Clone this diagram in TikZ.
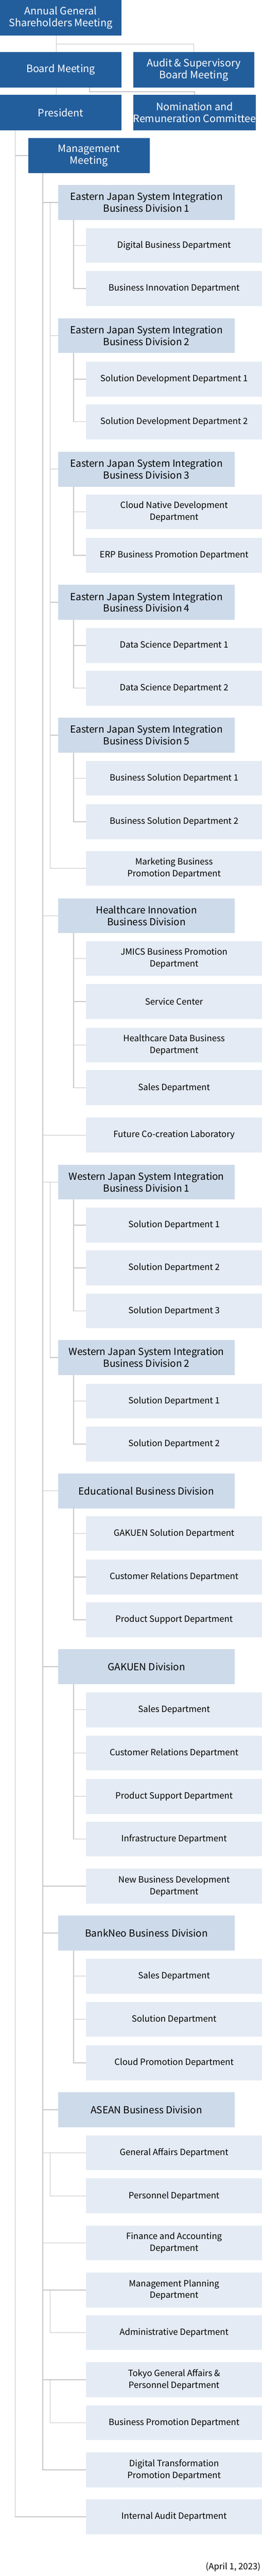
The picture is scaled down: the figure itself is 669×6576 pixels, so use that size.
\documentclass[tikz,border=0pt]{standalone}
\usepackage{fontspec}
\setmainfont{Noto Sans CJK JP}
\usepackage{tikz}
\usetikzlibrary{positioning}
\definecolor{topblue}{HTML}{235E9C}
\definecolor{divblue}{HTML}{CDDAE9}
\definecolor{deptblue}{HTML}{E4EBF4}
\definecolor{linegray}{HTML}{C8C8C8}
\tikzstyle{topbox}=[anchor=north west, fill=topblue, text=white, minimum width=310pt, minimum height=90pt, align=center, font=\fontsize{26}{30}\selectfont, inner sep=0pt]
\tikzstyle{divbox}=[anchor=north west, fill=divblue, text=black, minimum width=450pt, minimum height=89pt, align=center, font=\fontsize{25}{30}\selectfont, inner sep=0pt]
\tikzstyle{deptbox}=[anchor=north west, fill=deptblue, text=black, minimum width=449pt, minimum height=89pt, align=center, font=\fontsize{22}{30}\selectfont, inner sep=0pt]
\tikzstyle{conn}=[draw=linegray, line width=2pt]
\newcommand{\dept}[3]{\node[deptbox] (#1) at (220,#2) {#3};}
\newcommand{\divn}[3]{\node[divbox] (#1) at (149,#2) {#3};}

\begin{document}
\begin{tikzpicture}[x=1pt, y=-1pt]
    \useasboundingbox (0,0) rectangle (669,6576);

    % Trunk positions
    \coordinate (ta) at (144,0);
    \coordinate (tb) at (229,0);
    \coordinate (tp) at (39,0);
    \coordinate (tm) at (109,0);
    \coordinate (tg) at (128,0);
    \coordinate (td) at (188,0);

    % Top management
    \node[topbox] (agm) at (0,0) {Annual General\\Shareholders Meeting};
    \node[topbox] (board) at (0,133) {Board Meeting};
    \node[topbox] (audit) at (340,133) {Audit \& Supervisory\\Board Meeting};
    \node[topbox] (pres) at (0,242) {President};
    \node[topbox] (nomi) at (340,242) {Nomination and\\Remuneration Committee};
    \node[topbox] (mgmt) at (72,352) {Management\\Meeting};

    % Eastern Japan
    \divn{ej1}{472}{Eastern Japan System Integration\\Business Division 1}
    \dept{ej1a}{582}{Digital Business Department}
    \dept{ej1b}{692}{Business Innovation Department}
    \divn{ej2}{812}{Eastern Japan System Integration\\Business Division 2}
    \dept{ej2a}{923}{Solution Development Department 1}
    \dept{ej2b}{1032}{Solution Development Department 2}
    \divn{ej3}{1153}{Eastern Japan System Integration\\Business Division 3}
    \dept{ej3a}{1262}{Cloud Native Development\\Department}
    \dept{ej3b}{1373}{ERP Business Promotion Department}
    \divn{ej4}{1493}{Eastern Japan System Integration\\Business Division 4}
    \dept{ej4a}{1603}{Data Science Department 1}
    \dept{ej4b}{1712}{Data Science Department 2}
    \divn{ej5}{1832}{Eastern Japan System Integration\\Business Division 5}
    \dept{ej5a}{1942}{Business Solution Department 1}
    \dept{ej5b}{2053}{Business Solution Department 2}
    \dept{mkt}{2172}{Marketing Business\\Promotion Department}

    % Healthcare
    \divn{hc}{2293}{Healthcare Innovation\\Business Division}
    \dept{hca}{2402}{JMICS Business Promotion\\Department}
    \dept{hcb}{2512}{Service Center}
    \dept{hcc}{2623}{Healthcare Data Business\\Department}
    \dept{hcd}{2732}{Sales Department}
    \dept{fut}{2853}{Future Co-creation Laboratory}

    % Western Japan
    \divn{wj1}{2973}{Western Japan System Integration\\Business Division 1}
    \dept{wj1a}{3083}{Solution Department 1}
    \dept{wj1b}{3192}{Solution Department 2}
    \dept{wj1c}{3302}{Solution Department 3}
    \divn{wj2}{3421}{Western Japan System Integration\\Business Division 2}
    \dept{wj2a}{3532}{Solution Department 1}
    \dept{wj2b}{3642}{Solution Department 2}

    % Education
    \divn{edu}{3761}{Educational Business Division}
    \dept{edua}{3870}{GAKUEN Solution Department}
    \dept{edub}{3981}{Customer Relations Department}
    \dept{educ}{4090}{Product Support Department}
    \divn{gak}{4210}{GAKUEN Division}
    \dept{gaka}{4320}{Sales Department}
    \dept{gakb}{4430}{Customer Relations Department}
    \dept{gakc}{4541}{Product Support Department}
    \dept{gakd}{4650}{Infrastructure Department}
    \dept{newb}{4770}{New Business Development\\Department}

    % BankNeo and ASEAN
    \divn{bn}{4890}{BankNeo Business Division}
    \dept{bna}{5000}{Sales Department}
    \dept{bnb}{5110}{Solution Department}
    \dept{bnc}{5221}{Cloud Promotion Department}
    \divn{asean}{5341}{ASEAN Business Division}

    % Corporate
    \dept{ga}{5451}{General Affairs Department}
    \dept{pers}{5561}{Personnel Department}
    \dept{fin}{5681}{Finance and Accounting\\Department}
    \dept{plan}{5801}{Management Planning\\Department}
    \dept{adm}{5910}{Administrative Department}
    \dept{tokyo}{6030}{Tokyo General Affairs \&\\Personnel Department}
    \dept{bp}{6140}{Business Promotion Department}
    \dept{dx}{6260}{Digital Transformation\\Promotion Department}
    \dept{ia}{6380}{Internal Audit Department}

    \node[anchor=east, font=\fontsize{22}{26}\selectfont] (date) at (669,6553) {(April 1, 2023)};

    % Top connectors
    \draw[conn] (ta |- agm.south) -- (ta |- board.north);
    \draw[conn] (ta |- agm.south) -- ++(0,22) -| (audit.north);
    \draw[conn] (ta |- board.south) -- (ta |- pres.north);
    \draw[conn] (tb |- board.south) -- ++(0,11) -| (nomi.north);
    \draw[conn] (tp |- pres.south) |- (ia.west);
    \draw[conn] (tp |- mgmt.west) -- (mgmt.west);

    % Management trunk
    \draw[conn] (tm |- mgmt.south) |- (dx.west);
    \foreach \n in {ej1, hc, wj1, edu, gak, bn, asean}
        \draw[conn] (tm |- \n.west) -- (\n.west);
    \foreach \n in {fut, newb, ga, fin, plan, tokyo}
        \draw[conn] (tm |- \n.west) -- (\n.west);

    % Group trunks
    \draw[conn] (tg |- ej1.west) |- (mkt.west);
    \foreach \n in {ej2, ej3, ej4, ej5}
        \draw[conn] (tg |- \n.west) -- (\n.west);
    \draw[conn] (tg |- wj1.west) |- (wj2.west);
    \draw[conn] (tg |- ga.west) |- (pers.west);
    \draw[conn] (tg |- plan.west) |- (adm.west);
    \draw[conn] (tg |- tokyo.west) |- (bp.west);

    % Department trunks
    \foreach \d/\s in {ej1/ej1a, ej1/ej1b, ej2/ej2a, ej2/ej2b, ej3/ej3a, ej3/ej3b,
        ej4/ej4a, ej4/ej4b, ej5/ej5a, ej5/ej5b, hc/hca, hc/hcb, hc/hcc, hc/hcd,
        wj1/wj1a, wj1/wj1b, wj1/wj1c, wj2/wj2a, wj2/wj2b, edu/edua, edu/edub, edu/educ,
        gak/gaka, gak/gakb, gak/gakc, gak/gakd, bn/bna, bn/bnb, bn/bnc}
        \draw[conn] (td |- \d.south) |- (\s.west);
\end{tikzpicture}
\end{document}
